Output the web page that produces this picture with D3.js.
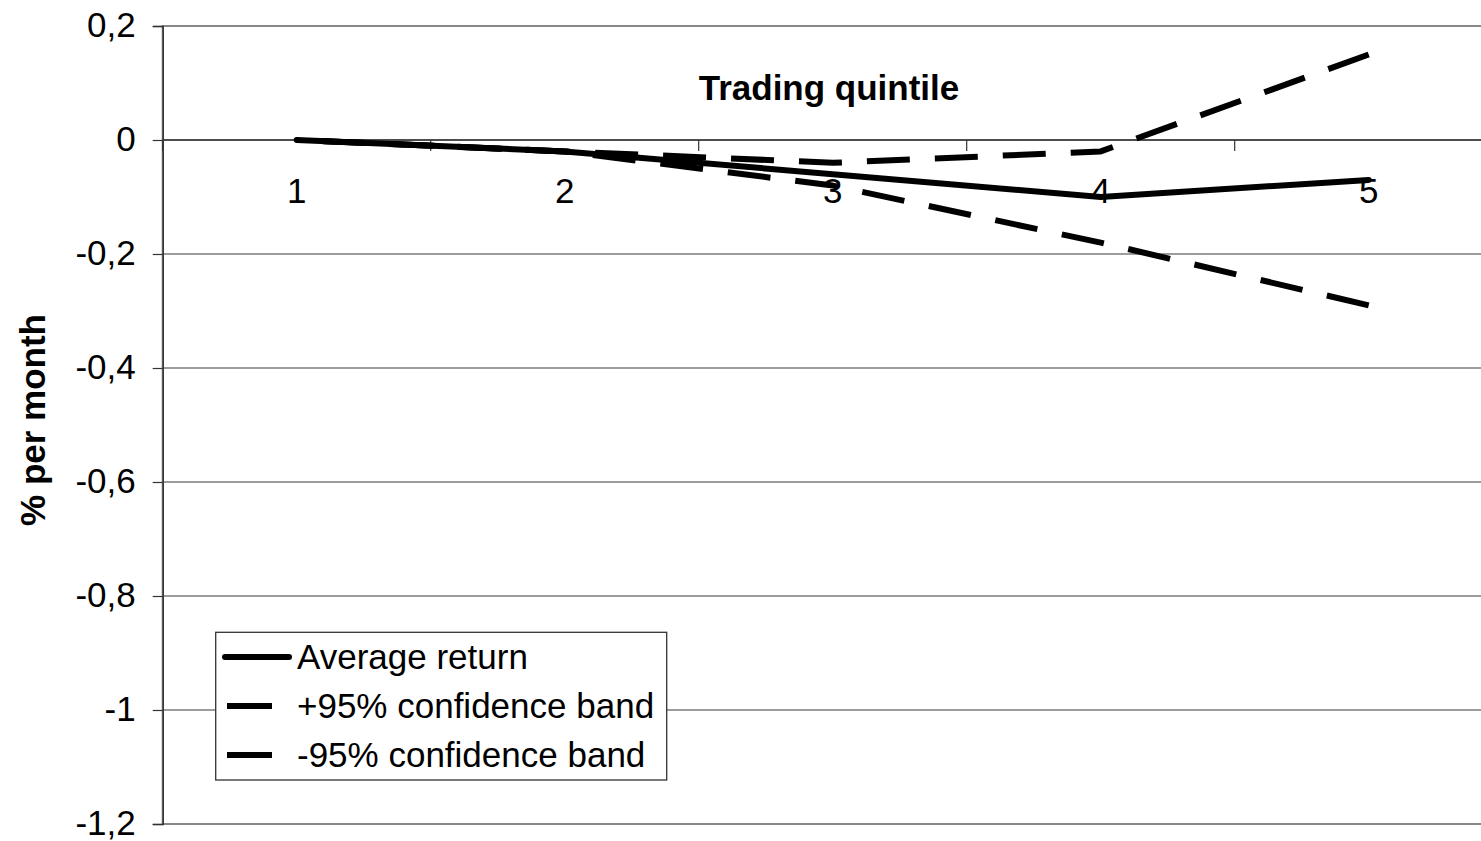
<!DOCTYPE html>
<html>
<head>
<meta charset="utf-8">
<script src="https://cdn.jsdelivr.net/npm/d3@7"></script>
<style>
  html, body { margin: 0; padding: 0; background: #fff; }
  svg { display: block; font-family: "Liberation Sans", Arial, sans-serif; }
</style>
</head>
<body>
<svg id="chart" width="1481" height="841"></svg>
<script>
// Trading quintiles on the category axis
const quintiles = ["1", "2", "3", "4", "5"];
// Returns in % per month
const averageReturn = [0, -0.02, -0.06, -0.1, -0.07];
const upperBand = [0, -0.02, -0.04, -0.02, 0.15];
const lowerBand = [0, -0.02, -0.08, -0.18, -0.29];
// Value axis ticks
const yTicks = [0.2, 0, -0.2, -0.4, -0.6, -0.8, -1, -1.2];

const seriesNames = ["Average return", "+95% confidence band", "-95% confidence band"];
const seriesValues = [averageReturn, upperBand, lowerBand];
const seriesDashed = [false, true, true];
const DASH = 43, GAP = 25, LINE_W = 6, FONT = 35;

const svg = d3.select("#chart");

const plot = { left: 162.7, right: 1502.7, top: 26, bottom: 824 };

const x = d3.scaleBand().domain(quintiles).range([plot.left, plot.right]);
const y = d3.scaleLinear().domain([-1.2, 0.2]).range([plot.bottom, plot.top]);

const locale = d3.formatLocale({ decimal: ",", thousands: ".", grouping: [3], currency: ["", ""], minus: "-" });
const fmt = locale.format(".1~f");

// Horizontal gridlines
svg.append("g")
  .selectAll("line")
  .data(yTicks.filter(v => v !== 0.2 && v !== -1.2))
  .join("line")
  .attr("x1", plot.left).attr("x2", plot.right)
  .attr("y1", d => y(d)).attr("y2", d => y(d))
  .attr("stroke", "#3a3a3a").attr("stroke-width", 1.2);

// Plot area border (top and bottom)
svg.append("rect")
  .attr("x", plot.left).attr("y", plot.top)
  .attr("width", plot.right - plot.left).attr("height", plot.bottom - plot.top)
  .attr("fill", "none").attr("stroke", "#888").attr("stroke-width", 2);

// Value axis
const yAxis = d3.axisLeft(y).tickValues(yTicks).tickFormat(fmt).tickSize(10).tickPadding(17);
const gy = svg.append("g").attr("transform", `translate(${plot.left},0)`).call(yAxis);
gy.select(".domain").attr("stroke", "#333").attr("stroke-width", 1.5);
gy.selectAll(".tick line").attr("stroke", "#333").attr("stroke-width", 1.2);
gy.selectAll(".tick text").attr("font-size", FONT).attr("fill", "#000").attr("dy", "0.3em")
  .attr("font-family", "Liberation Sans, Arial, sans-serif");

// Category axis crossing at zero, ticks between categories
const zeroY = y(0);
const boundaries = quintiles.map(q => x(q)).concat([x(quintiles[quintiles.length - 1]) + x.bandwidth()]);
svg.append("line")
  .attr("x1", plot.left).attr("x2", plot.right)
  .attr("y1", zeroY).attr("y2", zeroY)
  .attr("stroke", "#333").attr("stroke-width", 1.4);
svg.append("g").selectAll("line")
  .data(boundaries)
  .join("line")
  .attr("x1", d => d).attr("x2", d => d)
  .attr("y1", zeroY).attr("y2", zeroY + 11)
  .attr("stroke", "#333").attr("stroke-width", 1.2);
svg.append("g").selectAll("text")
  .data(quintiles)
  .join("text")
  .attr("x", d => x(d) + x.bandwidth() / 2)
  .attr("y", zeroY + 63)
  .attr("text-anchor", "middle")
  .attr("font-size", FONT)
  .attr("fill", "#000")
  .text(d => d);

// Series lines
const line = d3.line()
  .x((d, i) => x(quintiles[i]) + x.bandwidth() / 2)
  .y(d => y(d));

svg.append("g").selectAll("path")
  .data(seriesValues)
  .join("path")
  .attr("d", d => line(d))
  .attr("fill", "none")
  .attr("stroke", "#000")
  .attr("stroke-width", LINE_W)
  .attr("stroke-linejoin", "round")
  .attr("stroke-linecap", (d, i) => seriesDashed[i] ? "butt" : "round")
  .attr("stroke-dasharray", (d, i) => seriesDashed[i] ? `${DASH},${GAP}` : null)
  .each(function (d, i) {
    if (!seriesDashed[i]) return;
    // shift the pattern so the line finishes on a whole dash
    const len = this.getTotalLength();
    const period = DASH + GAP;
    const off = ((DASH - len) % period + period) % period;
    d3.select(this).attr("stroke-dashoffset", off);
  });

// Axis titles
svg.append("text")
  .attr("x", 829).attr("y", 100)
  .attr("text-anchor", "middle")
  .attr("font-size", FONT).attr("font-weight", "bold")
  .text("Trading quintile");

svg.append("text")
  .attr("transform", "translate(45,420) rotate(-90)")
  .attr("text-anchor", "middle")
  .attr("font-size", FONT).attr("font-weight", "bold")
  .text("% per month");

// Legend
const legend = svg.append("g");
legend.append("rect")
  .attr("x", 215.7).attr("y", 632.3)
  .attr("width", 451).attr("height", 147.7)
  .attr("fill", "#fff").attr("stroke", "#333").attr("stroke-width", 1.3);
const rowY = [657, 706, 755];
seriesNames.forEach((name, i) => {
  const dashed = seriesDashed[i];
  legend.append("line")
    .attr("x1", dashed ? 227 : 225).attr("x2", dashed ? 272 : 289)
    .attr("y1", rowY[i]).attr("y2", rowY[i])
    .attr("stroke", "#000")
    .attr("stroke-width", LINE_W)
    .attr("stroke-linecap", dashed ? "butt" : "round");
  legend.append("text")
    .attr("x", 297).attr("y", rowY[i] + 12)
    .attr("font-size", FONT)
    .attr("fill", "#000")
    .text(name);
});
</script>
</body>
</html>
